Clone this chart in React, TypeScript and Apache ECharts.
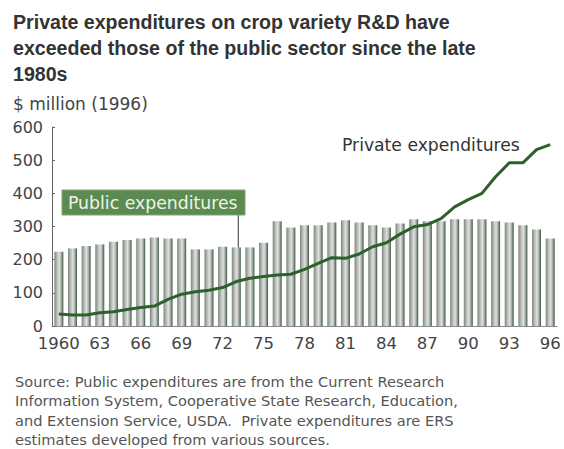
import React, { useEffect, useRef } from "react";
import * as echarts from "echarts";

// Crop variety R&D spending, $ million (1996), 1960–1996
const years: string[] = [
  "1960", "1961", "1962", "1963", "1964", "1965", "1966", "1967", "1968", "1969",
  "1970", "1971", "1972", "1973", "1974", "1975", "1976", "1977", "1978", "1979",
  "1980", "1981", "1982", "1983", "1984", "1985", "1986", "1987", "1988", "1989",
  "1990", "1991", "1992", "1993", "1994", "1995", "1996",
];

const publicSpending: number[] = [
  224, 234, 241, 246, 254, 259, 264, 267, 264, 264,
  231, 231, 239, 237, 237, 251, 316, 297, 304, 304,
  312, 319, 312, 304, 297, 309, 322, 316, 316, 322,
  322, 322, 316, 312, 304, 291, 264,
];

const privateSpending: number[] = [
  36, 33, 33, 40, 43, 50, 56, 60, 80, 96,
  103, 108, 116, 134, 144, 149, 154, 156, 171, 189,
  206, 204, 217, 239, 251, 277, 299, 306, 324, 359,
  381, 400, 450, 492, 492, 532, 547,
];

const titleLines: string[] = [
  "Private expenditures on crop variety R&D have",
  "exceeded those of the public sector since the late",
  "1980s",
];
const unitLabel = "$ million (1996)";
const sourceLines: string[] = [
  "Source: Public expenditures are from the Current Research",
  "Information System, Cooperative State Research, Education,",
  "and Extension Service, USDA.  Private expenditures are ERS",
  "estimates developed from various sources.",
];
const publicLabel = "Public expenditures";
const privateLabel = "Private expenditures";
const publicLabelYear = "1973";

const FONT = "DejaVu Sans";
const TITLE_FONT = "Liberation Sans";

export default function App() {
  const ref = useRef<HTMLDivElement>(null);

  useEffect(() => {
    if (!ref.current) return;
    const chart = echarts.init(ref.current, null, { renderer: "svg" });

    const barFill = new echarts.graphic.LinearGradient(0, 0, 1, 0, [
      { offset: 0, color: "#7c837c" },
      { offset: 0.3, color: "#b9beb9" },
      { offset: 0.55, color: "#dfe2df" },
      { offset: 0.78, color: "#a2aaa2" },
      { offset: 1, color: "#35553a" },
    ]);

    chart.setOption({
      animation: false,
      backgroundColor: "#ffffff",
      textStyle: { fontFamily: FONT },
      grid: { left: 52, right: 7, top: 127, bottom: 123, containLabel: false },
      xAxis: {
        type: "category",
        data: years,
        boundaryGap: true,
        axisLine: { show: true, lineStyle: { color: "#8a8a8a", width: 1 } },
        axisTick: { show: false },
        axisLabel: {
          interval: 2,
          margin: 9,
          color: "#444",
          fontSize: 16.5,
          fontFamily: FONT,
          formatter: (v: string) => (v === years[0] ? v : v.slice(2)),
        },
        splitLine: { show: false },
      },
      yAxis: {
        type: "value",
        min: 0,
        max: 600,
        interval: 100,
        axisLine: { show: true, lineStyle: { color: "#666", width: 1 } },
        axisTick: { show: true, inside: true, length: 3, lineStyle: { color: "#666" } },
        axisLabel: {
          margin: 9,
          color: "#444",
          fontSize: 16,
          fontFamily: FONT,
          padding: [0, 0, 8, 0],
        },
        splitLine: { show: false },
      },
      series: [
        {
          name: publicLabel,
          type: "bar",
          data: publicSpending,
          barWidth: 9,
          itemStyle: { color: barFill },
          z: 2,
        },
        {
          name: privateLabel,
          type: "line",
          data: privateSpending,
          showSymbol: false,
          symbol: "none",
          smooth: false,
          lineStyle: { color: "#2c622a", width: 3 },
          z: 3,
        },
      ],
    });

    // Leader from the public label box down to its bar
    const idx = years.indexOf(publicLabelYear);
    const barTop = chart.convertToPixel({ gridIndex: 0 }, [idx, publicSpending[idx]]) as number[];
    const leaderX = barTop[0] + 2;

    chart.setOption({
      graphic: [
        {
          type: "text",
          left: 13,
          top: 9,
          style: {
            text: titleLines.join("\n"),
            font: `bold 19.6px "${TITLE_FONT}"`,
            fill: "#333",
            lineHeight: 26,
          },
        },
        {
          type: "text",
          left: 13,
          top: 95,
          style: {
            text: unitLabel,
            font: `17px "${FONT}"`,
            fill: "#444",
          },
        },
        {
          type: "line",
          shape: { x1: leaderX, y1: 214, x2: leaderX, y2: barTop[1] },
          style: { stroke: "#333", lineWidth: 1 },
          z: 10,
        },
        {
          type: "rect",
          shape: { x: 62, y: 190, width: 183, height: 25 },
          style: { fill: "#5b8b51", stroke: "#7fa675", lineWidth: 1 },
          z: 10,
        },
        {
          type: "text",
          x: 68,
          y: 202.5,
          style: {
            text: publicLabel,
            font: `17.3px "${FONT}"`,
            fill: "#eef3ea",
            verticalAlign: "middle",
          },
          z: 11,
        },
        {
          type: "text",
          x: 342,
          y: 145,
          style: {
            text: privateLabel,
            font: `17.2px "${FONT}"`,
            fill: "#333",
            verticalAlign: "middle",
          },
          z: 11,
        },
        {
          type: "text",
          left: 15,
          top: 372,
          style: {
            text: sourceLines.join("\n"),
            font: `14.6px "${FONT}"`,
            fill: "#555",
            lineHeight: 19.3,
          },
        },
      ],
    });

    return () => chart.dispose();
  }, []);

  return (
    <div
      ref={ref}
      style={{ position: "fixed", left: 0, top: 0, width: 564, height: 449, background: "#fff" }}
    />
  );
}
